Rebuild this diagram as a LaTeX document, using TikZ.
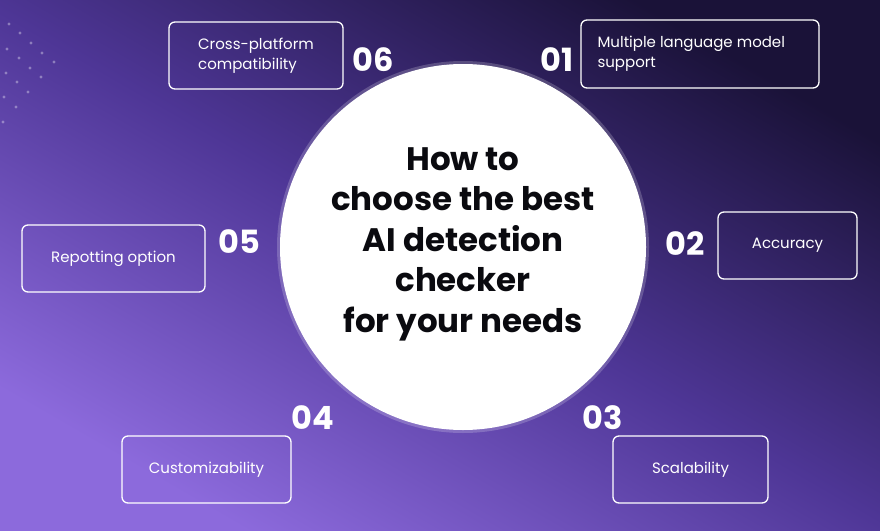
\documentclass[tikz,border=0pt]{standalone}
\usepackage{fontspec}
\setmainfont{Poppins}
\definecolor{bgA}{RGB}{140,106,220}
\definecolor{bgB}{RGB}{26,18,56}
\definecolor{bgM}{RGB}{78,54,150}
\definecolor{ttl}{RGB}{10,10,15}
\begin{document}
\begin{tikzpicture}[x=1pt,y=-1pt,
  frame/.style={draw=white,line width=1.3pt,rounded corners=6pt},
  lbl/.style={text=white,font=\fontsize{15}{20}\selectfont,align=left,inner sep=0},
  num/.style={text=white,font=\bfseries\fontsize{32}{32}\selectfont},
  dot/.style={fill=white,fill opacity=0.35,draw=none}]
\shade[top color=bgB,bottom color=bgA,middle color=bgM,shading angle=-30] (0,0) rectangle (880,530);
\useasboundingbox (0,0) rectangle (880,530);
\foreach \p in {(9,24),(20,33),(31,43),(42,53),(54,62),(7,49),(19,58),(30,68),(41,77),(6,73),(17,82),(28,92),(4,97),(16,107),(3,122)}
  \fill[dot] \p circle (1.6);
\fill[white,opacity=0.2] (463,247) circle (186);
\node[circle,fill=white,minimum size=366pt,inner sep=0] (c) at (463,247) {};
\node[align=center,font=\bfseries\fontsize{32.5}{40.5}\selectfont,text=ttl] (t) at (463,244) {How to\\choose the best\\AI detection\\checker\\ for your needs};
\node[frame,minimum width=174pt,minimum height=67pt] (b6) at (256,55.5) {};
\node[lbl] at (b6) {Cross-platform\\compatibility};
\node[num] (n6) at (373,60) {06};
\node[frame,minimum width=238pt,minimum height=68pt] (b1) at (700,54) {};
\node[lbl,anchor=west] at ([xshift=17pt]b1.west) {Multiple language model\\support};
\node[num] (n1) at (557,60) {01};
\node[frame,minimum width=139pt,minimum height=67pt] (b2) at (787.5,245.5) {};
\node[lbl] at (b2) {Accuracy};
\node[num] (n2) at (685,244) {02};
\node[frame,minimum width=183pt,minimum height=67pt] (b5) at (113.5,258.5) {};
\node[lbl] at (b5) {Repotting option};
\node[num] (n5) at (239,242) {05};
\node[frame,minimum width=169pt,minimum height=67pt] (b4) at (206.5,469.5) {};
\node[lbl] at (b4) {Customizability};
\node[num] (n4) at (313,418) {04};
\node[frame,minimum width=155pt,minimum height=67pt] (b3) at (690.5,469.5) {};
\node[lbl] at (b3) {Scalability};
\node[num] (n3) at (603,418) {03};
\end{tikzpicture}
\end{document}
